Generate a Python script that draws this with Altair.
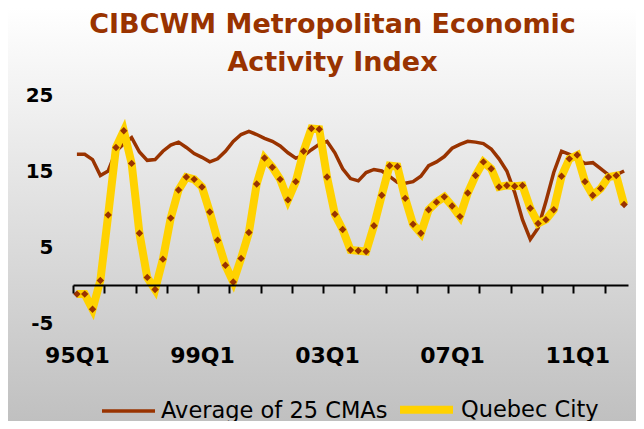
import altair as alt
import pandas as pd

# ---- data ----
quarters = [f"{(95 + k // 4) % 100:02d}Q{k % 4 + 1}" for k in range(71)]  # 95Q1 .. 12Q3

avg_25_cmas = [
    17.2, 17.2, 16.5, 14.4, 15.0, 17.6, 18.6, 19.4, 17.5, 16.4,
    16.5, 17.6, 18.4, 18.8, 18.1, 17.3, 16.8, 16.2, 16.6, 17.6,
    18.9, 19.8, 20.2, 19.8, 19.3, 18.9, 18.3, 17.4, 16.7, 17.0,
    17.8, 18.5, 18.9, 17.4, 15.3, 14.0, 13.7, 14.8, 15.2, 15.0,
    14.3, 13.5, 13.4, 13.6, 14.3, 15.7, 16.2, 16.9, 18.0, 18.5,
    18.9, 18.8, 18.6, 17.9, 16.6, 15.0, 12.2, 8.6, 6.0, 7.5,
    11.0, 14.8, 17.6, 17.2, 16.6, 16.0, 16.1, 15.3, 14.5, 14.5,
    15.0,
]

quebec_city = [
    -1.2, -1.2, -3.2, 0.6, 9.2, 18.1, 20.3, 16.0, 6.8, 1.0,
    -0.6, 3.4, 8.8, 12.5, 14.2, 13.9, 12.9, 9.6, 5.9, 2.6,
    0.4, 3.5, 6.9, 13.3, 16.7, 15.5, 13.9, 11.2, 13.6, 17.6,
    20.6, 20.5, 14.2, 9.3, 7.3, 4.6, 4.5, 4.4, 7.8, 11.8,
    15.7, 15.6, 11.4, 8.0, 6.8, 9.9, 10.9, 11.6, 10.4, 9.0,
    12.1, 14.4, 16.2, 15.3, 12.9, 13.1, 13.0, 13.1, 10.1, 8.1,
    8.6, 9.9, 14.3, 16.6, 17.1, 13.6, 11.8, 12.7, 14.2, 14.4,
    10.6,
]

series_names = ["Average of 25 CMAs", "Quebec City"]
x_label_quarters = ["95Q1", "99Q1", "03Q1", "07Q1", "11Q1"]
y_tick_values = [-5, 5, 15, 25]

assert len(avg_25_cmas) == len(quarters) == len(quebec_city)

# ---- style ----
BROWN = "#993300"
GOLD = "#FFD200"
W, H = 555, 228
PAD = {"left": 65, "top": 87, "right": 8, "bottom": 98}
n = len(quarters)

df = pd.DataFrame({
    "pos": [i + 0.5 for i in range(n)] * 2,
    "quarter": quarters * 2,
    "series": [series_names[0]] * n + [series_names[1]] * n,
    "value": avg_25_cmas + quebec_city,
})

x_scale = alt.Scale(domain=[0, n], nice=False, zero=False)
y_scale = alt.Scale(domain=[y_tick_values[0], y_tick_values[-1]], nice=False, zero=False)
color_scale = alt.Scale(domain=series_names, range=[BROWN, GOLD])
width_scale = alt.Scale(domain=series_names, range=[3.5, 8])

legend = alt.Legend(
    title=None, orient="none", legendX=27, legendY=284, direction="horizontal",
    symbolType="stroke", symbolSize=2809, labelFontSize=22.5, labelFont="DejaVu Sans",
    labelColor="#000000", labelOffset=4, columnPadding=-4, labelLimit=400, zindex=2,
)

zero_offset = -(H * (0 - y_tick_values[0]) / (y_tick_values[-1] - y_tick_values[0]))

tick_axis = alt.Axis(
    orient="bottom", values=list(range(0, n, 4)), labels=False, title=None, grid=False,
    offset=zero_offset, domainColor="#000000", domainWidth=2, tickColor="#000000",
    tickWidth=2, tickSize=8, zindex=1,
)

label_positions = [quarters.index(q) + 0.5 for q in x_label_quarters]
label_expr = "{" + ",".join(f"'{p}':'{q}'" for p, q in zip(label_positions, x_label_quarters)) + "}[''+datum.value]"
label_axis = alt.Axis(
    orient="bottom", values=label_positions, labelExpr=label_expr, ticks=False, domain=False,
    grid=False, title=None, labelPadding=22, labelFontSize=22, labelFont="DejaVu Sans",
    labelFontWeight="bold", labelColor="#000000", zindex=1,
)

y_axis = alt.Axis(
    values=y_tick_values, labelExpr="'' + datum.value", domain=False, ticks=False, grid=False,
    title=None, labelPadding=20, labelFontSize=20, labelFont="DejaVu Sans",
    labelFontWeight="bold", labelColor="#000000", zindex=1,
)

gradient = alt.LinearGradient(
    gradient="linear",
    stops=[alt.GradientStop(offset=0, color="#ffffff"), alt.GradientStop(offset=1, color="#c0c0c0")],
    x1=0, x2=0, y1=0, y2=1,
)

bg = alt.Chart(pd.DataFrame({"a": [0]})).mark_rect(fill=gradient).encode(
    x=alt.value(-PAD["left"]), x2=alt.value(W + PAD["right"]),
    y=alt.value(-PAD["top"]), y2=alt.value(H + PAD["bottom"]),
)

base = alt.Chart(df)

avg_line = base.transform_filter(alt.datum.series == series_names[0]).mark_line().encode(
    x=alt.X("pos:Q", scale=x_scale, axis=tick_axis),
    y=alt.Y("value:Q", scale=y_scale, axis=y_axis),
    color=alt.Color("series:N", scale=color_scale, legend=legend),
    strokeWidth=alt.StrokeWidth("series:N", scale=width_scale, legend=legend),
)

qc_line = base.transform_filter(alt.datum.series == series_names[1]).mark_line().encode(
    x=alt.X("pos:Q", scale=x_scale, axis=None),
    y=alt.Y("value:Q", scale=y_scale, axis=None),
    color=alt.Color("series:N", scale=color_scale, legend=legend),
    strokeWidth=alt.StrokeWidth("series:N", scale=width_scale, legend=legend),
)

qc_points = base.transform_filter(alt.datum.series == series_names[1]).mark_point(
    shape="diamond", filled=True, color=BROWN, size=55, opacity=1
).encode(
    x=alt.X("pos:Q", scale=x_scale, axis=label_axis),
    y=alt.Y("value:Q", scale=y_scale, axis=None),
)

chart = alt.layer(bg, avg_line, qc_line, qc_points).resolve_axis(
    x="independent", y="independent"
).properties(
    width=W, height=H, padding=PAD,
    autosize=alt.AutoSizeParams(type="none"),
    title=alt.TitleParams(
        text=["CIBCWM Metropolitan Economic", "Activity Index"],
        fontSize=27, font="DejaVu Sans", fontWeight="bold", color=BROWN,
        anchor="middle", lineHeight=38, dx=-18, dy=96, zindex=2,
        frame="group", baseline="bottom", offset=0,
    ),
).configure_view(stroke=None)

chart.save("out.html", embed_options={"renderer": "svg", "actions": False})
